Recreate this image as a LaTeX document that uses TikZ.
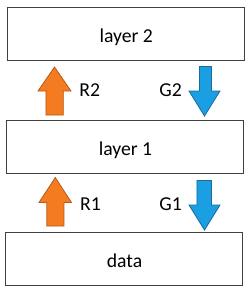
\documentclass[tikz,border=0pt]{standalone}
\usepackage{fontspec}
\setmainfont{Carlito}
\definecolor{orangefill}{HTML}{F47B20}
\definecolor{orangeline}{HTML}{B85A18}
\definecolor{bluefill}{HTML}{1AA0E2}
\definecolor{blueline}{HTML}{1A6A9C}
\definecolor{boxline}{HTML}{404040}
\begin{document}
\begin{tikzpicture}[x=1pt,y=-1pt,
  layerbox/.style={draw=boxline,line width=1pt,minimum width=237pt,minimum height=52.5pt,inner sep=0pt,text height=16.5pt,text depth=0pt,font=\fontsize{19.7}{21}\selectfont},
  lbl/.style={font=\fontsize{19.7}{21}\selectfont,inner sep=0pt,anchor=base west},
  uparrow/.style={fill=orangefill,draw=orangeline,line width=0.8pt,line join=miter},
  downarrow/.style={fill=bluefill,draw=blueline,line width=0.8pt,line join=miter}]
\useasboundingbox (0,0) rectangle (250,293);
\fill[white] (0,0) rectangle (250,293);
\node[layerbox] (l2) at (126.2,33.9) {layer 2};
\node[layerbox] (l1) at (125.5,146.9) {layer 1};
\node[layerbox] (d) at (124.5,258.8) {data};
% R2 up arrow
\draw[uparrow] (46,115) -- (46,91) -- (38,91) -- (54.5,67) -- (71,91) -- (63.3,91) -- (63.3,115) -- cycle;
% G2 down arrow
\draw[downarrow] (199.5,66.5) -- (211.5,66.5) -- (211.5,91) -- (220,91) -- (204.5,116) -- (189,91) -- (199.5,91) -- cycle;
% R1 up arrow
\draw[uparrow] (46.8,226) -- (46.8,202.5) -- (39,202.5) -- (55.3,177.5) -- (71.5,202.5) -- (64,202.5) -- (64,226) -- cycle;
% G1 down arrow
\draw[downarrow] (197,180.5) -- (211.5,180.5) -- (211.5,205) -- (220,205) -- (204.5,230) -- (189,205) -- (197,205) -- cycle;
\node[lbl] (r2) at (79.3,96) {R2};
\node[lbl] (g2) at (159.3,96) {G2};
\node[lbl] (r1) at (80,210.7) {R1};
\node[lbl] (g1) at (159.3,210.7) {G1};
\end{tikzpicture}
\end{document}
